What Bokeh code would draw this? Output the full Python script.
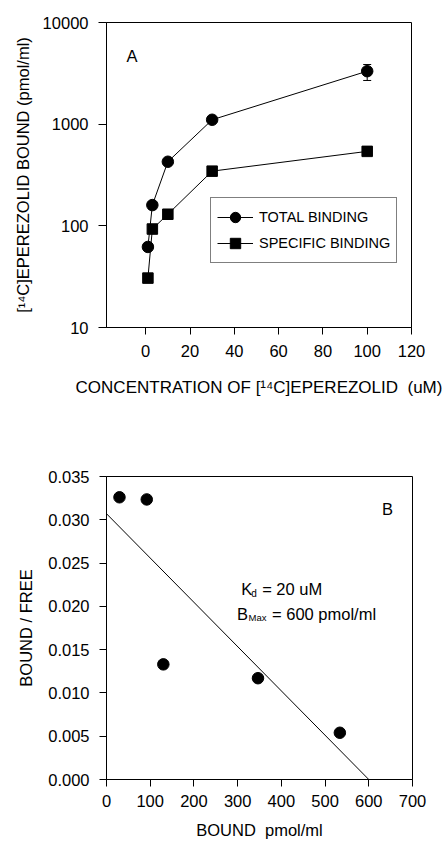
from bokeh.plotting import figure
from bokeh.layouts import column
from bokeh.models import (Range1d, FixedTicker, NumeralTickFormatter, Legend, LegendItem,
                          Label, Whisker, ColumnDataSource, TeeHead)
from bokeh.embed import file_html
from bokeh.resources import INLINE

FONT = "Liberation Sans"

# ---- Panel A data ----
conc = [1, 3, 10, 30, 100]
total_binding = [62, 160, 427, 1105, 3320]
specific_binding = [30.6, 93, 130, 345, 540]
err_x = [100]
err_lower = [2690]
err_upper = [3860]
x_ticks_a = [0, 20, 40, 60, 80, 100, 120]
y_ticks_a = [10, 100, 1000, 10000]

# ---- Panel B data ----
bound = [29.7, 92.1, 130, 346.5, 533.8]
bound_free = [0.0326, 0.03235, 0.0133, 0.0117, 0.0054]
fit_intercept = 0.0307
bmax = 600
x_ticks_b = [0, 100, 200, 300, 400, 500, 600, 700]
y_ticks_b = [0.0, 0.005, 0.01, 0.015, 0.02, 0.025, 0.03, 0.035]


def style(p):
    p.grid.visible = False
    p.outline_line_color = "black"
    p.outline_line_width = 1
    p.background_fill_color = "white"
    p.border_fill_color = "white"
    for ax in p.axis:
        ax.axis_line_color = "black"
        ax.major_tick_line_color = "black"
        ax.minor_tick_line_color = None
        ax.major_tick_in = 0
        ax.major_tick_out = 7
        ax.major_label_text_font = FONT
        ax.major_label_text_font_size = "16.5px"
        ax.major_label_text_color = "black"
        ax.axis_label_text_font = FONT
        ax.axis_label_text_font_size = "16.5px"
        ax.axis_label_text_font_style = "normal"
        ax.axis_label_text_color = "black"


# ---------------- Panel A ----------------
p1 = figure(frame_width=305, frame_height=305,
            min_border_left=105, min_border_right=33, min_border_top=22, min_border_bottom=88,
            x_range=Range1d(-17.7, 120), y_range=Range1d(10, 10000), y_axis_type="log",
            output_backend="svg", toolbar_location=None)
style(p1)
p1.xaxis.ticker = FixedTicker(ticks=x_ticks_a)
p1.yaxis.ticker = FixedTicker(ticks=y_ticks_a)
p1.yaxis.formatter = NumeralTickFormatter(format="0")
p1.yaxis.major_tick_out = 8
p1.xaxis.major_label_standoff = 10
p1.yaxis.major_label_standoff = 10
p1.xaxis.axis_label = "CONCENTRATION OF [\u00b9\u2074C]EPEREZOLID\u00a0 (uM)"
p1.xaxis.axis_label_text_font_size = "17px"
p1.xaxis.axis_label_standoff = 18
p1.yaxis.axis_label = "[\u00b9\u2074C]EPEREZOLID BOUND (pmol/ml)"
p1.yaxis.axis_label_standoff = 8

err_src = ColumnDataSource(dict(x=err_x, lower=err_lower, upper=err_upper))
p1.add_layout(Whisker(base="x", lower="lower", upper="upper", source=err_src,
                      dimension="height", line_color="black", line_width=1,
                      upper_head=TeeHead(size=8, line_color="black"),
                      lower_head=TeeHead(size=8, line_color="black")))

l1 = p1.line(conc, total_binding, line_color="black", line_width=1)
c1 = p1.scatter(conc, total_binding, marker="circle", size=11.5, color="black")
l2 = p1.line(conc, specific_binding, line_color="black", line_width=1)
s2 = p1.scatter(conc, specific_binding, marker="square", size=10.5, color="black")

legend = Legend(items=[LegendItem(label="TOTAL BINDING", renderers=[l1, c1]),
                       LegendItem(label="SPECIFIC BINDING", renderers=[l2, s2])],
                location=(104, 64), orientation="vertical",
                label_text_font=FONT, label_text_font_size="14.5px", label_text_color="black",
                glyph_width=36, glyph_height=26, label_height=26, label_standoff=6,
                padding=6, spacing=-8, margin=0,
                border_line_color="black", border_line_width=1,
                background_fill_color="white", background_fill_alpha=1)
p1.add_layout(legend)

p1.add_layout(Label(x=-8.7, y=4730, text="A", text_baseline="alphabetic",
                    text_font=FONT, text_font_size="16.5px", text_color="black"))

# ---------------- Panel B ----------------
p2 = figure(frame_width=306, frame_height=303,
            min_border_left=106, min_border_right=31, min_border_top=61, min_border_bottom=65,
            x_range=Range1d(0, 700), y_range=Range1d(0, 0.035),
            output_backend="svg", toolbar_location=None)
style(p2)
p2.xaxis.ticker = FixedTicker(ticks=x_ticks_b)
p2.yaxis.ticker = FixedTicker(ticks=y_ticks_b)
p2.yaxis.formatter = NumeralTickFormatter(format="0.000")
p2.xaxis.major_label_standoff = 8
p2.yaxis.major_label_standoff = 10
p2.xaxis.axis_label = "BOUND\u00a0 pmol/ml"
p2.xaxis.axis_label_standoff = 11
p2.yaxis.axis_label = "BOUND / FREE"
p2.yaxis.axis_label_standoff = 10

p2.line([0, bmax], [fit_intercept, 0], line_color="black", line_width=1)
p2.scatter(bound, bound_free, marker="circle", size=11.5, color="black")

lab_kw = dict(text_font=FONT, text_color="black", text_baseline="alphabetic")
p2.add_layout(Label(x=630, y=0.0312, text="B", text_font_size="16.5px", **lab_kw))
p2.add_layout(Label(x=308, y=0.0220, text="K", text_font_size="16.5px", **lab_kw))
p2.add_layout(Label(x=308, y=0.0220, x_offset=10, y_offset=-4, text="d",
                    text_font_size="10px", **lab_kw))
p2.add_layout(Label(x=308, y=0.0220, x_offset=21, text="= 20 uM",
                    text_font_size="16.5px", **lab_kw))
p2.add_layout(Label(x=298.5, y=0.01916, text="B", text_font_size="16.5px", **lab_kw))
p2.add_layout(Label(x=298.5, y=0.01916, x_offset=11.5, y_offset=-4, text="Max",
                    text_font_size="9.5px", **lab_kw))
p2.add_layout(Label(x=298.5, y=0.01916, x_offset=35, text="= 600 pmol/ml",
                    text_font_size="16.5px", **lab_kw))

layout = column(p1, p2, spacing=0)
open("out.html", "w").write(file_html(layout, INLINE))
